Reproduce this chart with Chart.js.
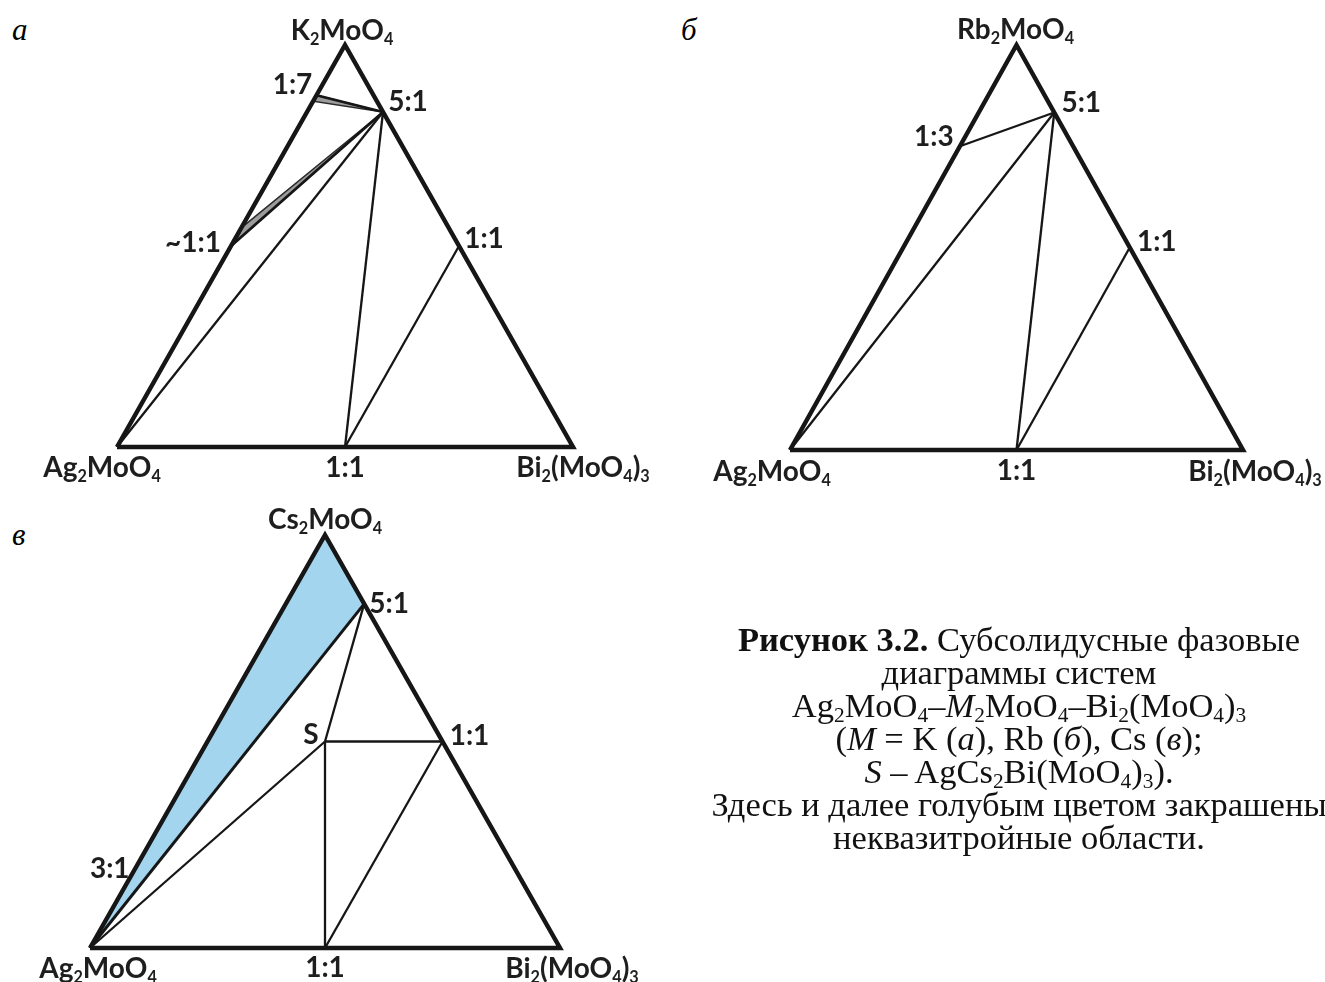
<!DOCTYPE html>
<html lang="ru">
<head>
<meta charset="utf-8">
<script src="https://cdn.jsdelivr.net/npm/chart.js@4.4.0/dist/chart.umd.min.js"></script>
<style>
  html, body { margin: 0; padding: 0; background: #fff; }
  body { width: 1325px; height: 982px; position: relative; overflow: hidden; }
  .panel { position: absolute; }
  .panel canvas { position: absolute; left: 0; top: 0; }
  .layer { position: absolute; left: 0; top: 0; width: 100%; height: 100%; pointer-events: none; }
  .lbl {
    position: absolute; transform: translate(-50%, -50%);
    font-family: Lato, "Open Sans", sans-serif; font-weight: 700; font-size: 28px;
    line-height: 1; color: #1e1e1e; white-space: nowrap;
  }
  .lbl sub { font-size: 0.58em; vertical-align: baseline; position: relative; top: 0.3em; line-height: 0; }
  #caption sub { font-size: 0.62em; vertical-align: baseline; position: relative; top: 0.25em; line-height: 0; }
  .letter { position: absolute; font-family: "Liberation Serif", serif; font-style: italic; font-size: 31px; line-height: 1; }
  #caption {
    position: absolute; left: 619px; top: 623px; width: 800px; text-align: center;
    font-family: "Liberation Serif", serif; font-size: 34.5px; line-height: 33px; color: #111; white-space: nowrap;
  }
</style>
</head>
<body>
<div class="letter" style="left:12px; top:14px;">а</div>
<div class="letter" style="left:681px; top:14px;">б</div>
<div class="letter" style="left:12px; top:519px;">в</div>

<div class="panel" id="panel-a"><canvas id="chart-a"></canvas><div class="layer" id="labels-a"></div></div>
<div class="panel" id="panel-b"><canvas id="chart-b"></canvas><div class="layer" id="labels-b"></div></div>
<div class="panel" id="panel-c"><canvas id="chart-c"></canvas><div class="layer" id="labels-c"></div></div>

<div id="caption">
  <div><b>Рисунок 3.2.</b> Субсолидусные фазовые</div>
  <div>диаграммы систем</div>
  <div>Ag<sub>2</sub>MoO<sub>4</sub>–<i>M</i><sub>2</sub>MoO<sub>4</sub>–Bi<sub>2</sub>(MoO<sub>4</sub>)<sub>3</sub></div>
  <div>(<i>M</i> = K (<i>а</i>), Rb (<i>б</i>), Cs (<i>в</i>);</div>
  <div><i>S</i> – AgCs<sub>2</sub>Bi(MoO<sub>4</sub>)<sub>3</sub>).</div>
  <div>Здесь и далее голубым цветом закрашены</div>
  <div>неквазитройные области.</div>
</div>

<script>
"use strict";

// compositions are mole fractions of [Ag2MoO4, M2MoO4, Bi2(MoO4)3]

// K system
let namesA = ["Ag_2MoO_4", "K_2MoO_4", "Bi_2(MoO_4)_3", "1:7", "5:1", "~1:1", "1:1", "1:1"];
let compsA = [[1, 0, 0], [0, 1, 0], [0, 0, 1], [1 / 8, 7 / 8, 0], [0, 5 / 6, 1 / 6], [1 / 2, 1 / 2, 0], [0, 1 / 2, 1 / 2], [1 / 2, 0, 1 / 2]];
let tiesA = [[4, 0], [4, 7], [7, 6]];
// narrow two-phase wedges next to 1:7 and ~1:1
let wedgesA = [
  [[1 / 8, 7 / 8, 0], [0, 5 / 6, 1 / 6], [0.14, 0.86, 0]],
  [[0.455, 0.545, 0], [0, 5 / 6, 1 / 6], [1 / 2, 1 / 2, 0]],
];

// Rb system
let namesB = ["Ag_2MoO_4", "Rb_2MoO_4", "Bi_2(MoO_4)_3", "1:3", "5:1", "1:1", "1:1"];
let compsB = [[1, 0, 0], [0, 1, 0], [0, 0, 1], [1 / 4, 3 / 4, 0], [0, 5 / 6, 1 / 6], [0, 1 / 2, 1 / 2], [1 / 2, 0, 1 / 2]];
let tiesB = [[3, 4], [4, 0], [4, 6], [6, 5]];

// Cs system, S = AgCs2Bi(MoO4)3
let namesC = ["Ag_2MoO_4", "Cs_2MoO_4", "Bi_2(MoO_4)_3", "3:1", "5:1", "S", "1:1", "1:1"];
let compsC = [[1, 0, 0], [0, 1, 0], [0, 0, 1], [3 / 4, 1 / 4, 0], [0, 5 / 6, 1 / 6], [1 / 4, 1 / 2, 1 / 4], [0, 1 / 2, 1 / 2], [1 / 2, 0, 1 / 2]];
let tiesC = [[5, 4], [5, 6], [5, 0], [5, 7], [7, 6]];
// non-quasiternary region
let blueC = [[0, 1, 0], [0, 5 / 6, 1 / 6], [1, 0, 0]];

const H = Math.sqrt(3) / 2;

function toXY(c) {
  let sum = c[0] + c[1] + c[2];
  return { x: (0.5 * c[1] + c[2]) / sum, y: (H * c[1]) / sum };
}

function polygon(comps) {
  let pts = comps.map(toXY);
  pts.push(pts[0]);
  return pts;
}

function tieDataset(a, b, width) {
  return {
    data: [toXY(a), toXY(b)],
    showLine: true, borderColor: "#161616", borderWidth: width || 2.3,
    pointRadius: 0, fill: false, order: 1,
  };
}

function labelPlugin(layer, items) {
  let divs = items.map((it) => {
    let d = document.createElement("div");
    d.className = "lbl";
    d.innerHTML = it.text.replace(/_(\d)/g, "<sub>$1</sub>");
    layer.appendChild(d);
    return d;
  });
  return {
    id: "compoundLabels",
    afterDraw(chart) {
      items.forEach((it, i) => {
        let p = toXY(it.comp);
        let px = chart.scales.x.getPixelForValue(p.x);
        let py = chart.scales.y.getPixelForValue(p.y);
        divs[i].style.left = px + it.dx + "px";
        divs[i].style.top = py + it.dy + "px";
      });
    },
  };
}

function drawPanel(cfg) {
  let panel = document.getElementById(cfg.panel);
  panel.style.left = cfg.frame.left + "px";
  panel.style.top = cfg.frame.top + "px";
  panel.style.width = cfg.frame.w + "px";
  panel.style.height = cfg.frame.h + "px";

  let canvas = document.getElementById(cfg.canvas);
  canvas.width = cfg.frame.w;
  canvas.height = cfg.frame.h;

  // corners of the triangle inside the frame set the axis ranges
  let box = cfg.box;
  let ppx = box.right - box.left;
  let ppy = (box.bottom - box.top) / H;

  let datasets = [];
  (cfg.regions || []).forEach((r) => {
    datasets.push({
      data: polygon(r.comps), showLine: true, fill: "shape",
      backgroundColor: r.color, borderColor: r.edge || "rgba(0,0,0,0)", borderWidth: r.edgeWidth || 0,
      pointRadius: 0, order: 3,
    });
  });
  cfg.ties.forEach((t) => datasets.push(tieDataset(cfg.comps[t[0]], cfg.comps[t[1]], t[2])));
  (cfg.extraLines || []).forEach((t) => datasets.push(tieDataset(t[0], t[1], t[2])));
  datasets.push({
    data: polygon([cfg.comps[0], cfg.comps[1], cfg.comps[2]]),
    showLine: true, borderColor: "#161616", borderWidth: 4.5, borderJoinStyle: "miter",
    pointRadius: 0, fill: false, order: 0,
  });

  let items = cfg.names.map((n, i) => ({ text: n, comp: cfg.comps[i], dx: cfg.offsets[i][0], dy: cfg.offsets[i][1] }));

  return new Chart(canvas, {
    type: "scatter",
    data: { datasets: datasets },
    options: {
      responsive: false,
      animation: false,
      events: [],
      layout: { padding: 0 },
      elements: { line: { tension: 0 } },
      scales: {
        x: { type: "linear", display: false, min: -box.left / ppx, max: (cfg.frame.w - box.left) / ppx },
        y: { type: "linear", display: false, min: -(cfg.frame.h - box.bottom) / ppy, max: box.bottom / ppy },
      },
      plugins: { legend: { display: false }, tooltip: { enabled: false } },
    },
    plugins: [labelPlugin(document.getElementById(cfg.layer), items)],
  });
}

drawPanel({
  panel: "panel-a", canvas: "chart-a", layer: "labels-a",
  frame: { left: 0, top: 0, w: 680, h: 500 },
  box: { left: 117, right: 573, top: 45, bottom: 447 },
  names: namesA, comps: compsA, ties: tiesA,
  regions: wedgesA.map((w) => ({ comps: w, color: "#9c9c9c", edge: "#2a2a2a", edgeWidth: 1.5 })),
  extraLines: [[compsA[3], compsA[4], 2.8], [compsA[5], compsA[4], 2.8]],
  offsets: [[-15, 19], [-3, -16], [10, 19], [-24, -12], [25, -12], [-38, -5], [25, -9], [0, 19]],
});

drawPanel({
  panel: "panel-b", canvas: "chart-b", layer: "labels-b",
  frame: { left: 680, top: 0, w: 645, h: 500 },
  box: { left: 110, right: 563, top: 45, bottom: 450 },
  names: namesB, comps: compsB, ties: tiesB,
  offsets: [[-18, 20], [-1, -17], [12, 20], [-26, -11], [27, -12], [27, -8], [0, 19]],
});

drawPanel({
  panel: "panel-c", canvas: "chart-c", layer: "labels-c",
  frame: { left: 0, top: 500, w: 680, h: 482 },
  box: { left: 90, right: 560, top: 35, bottom: 448 },
  names: namesC, comps: compsC, ties: tiesC,
  regions: [{ comps: blueC, color: "#a3d5ee" }],
  extraLines: [[compsC[4], compsC[0], 3]],
  offsets: [[8, 19], [0, -17], [12, 19], [-39, 22], [25, -2], [-14, -9], [27, -8], [0, 18]],
});
</script>
</body>
</html>
